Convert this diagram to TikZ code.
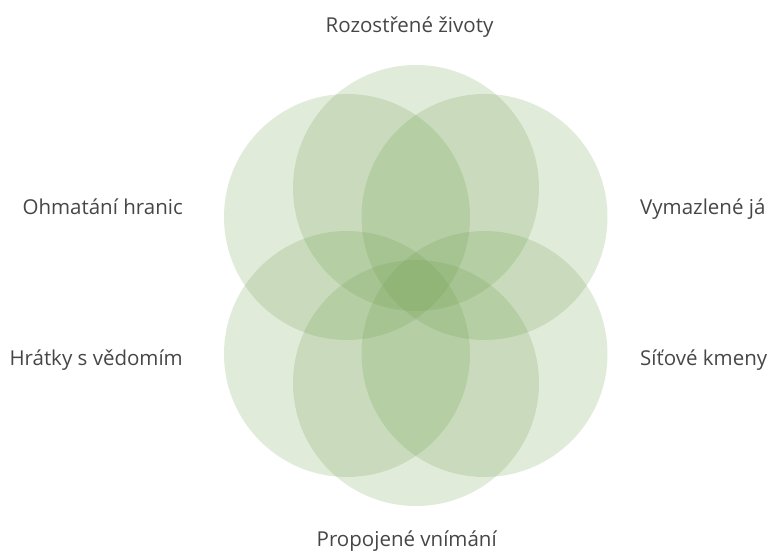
\documentclass[tikz,border=0pt]{standalone}
\usepackage{fontspec}
\setmainfont{Open Sans}
\definecolor{leafgreen}{RGB}{105,155,70}
\definecolor{labelgray}{RGB}{70,70,70}

\begin{document}
\begin{tikzpicture}[x=1pt,y=1pt]
	\tikzstyle{petal}=[circle, minimum size=246pt, inner sep=0pt, fill=leafgreen, fill opacity=.2]
	\tikzstyle{lbl}=[inner sep=0pt, text=labelgray, font=\fontsize{20.5}{24}\selectfont]
	\useasboundingbox (0,0) rectangle (769,559);
	\draw (416,371) node (p1) [petal] {};
	\draw (347,342) node (p2) [petal] {};
	\draw (484.5,342) node (p3) [petal] {};
	\draw (347,205) node (p4) [petal] {};
	\draw (484.5,205) node (p5) [petal] {};
	\draw (416,176) node (p6) [petal] {};
	\draw (409.5,526) node (t1) [lbl, anchor=base] {Rozostřené životy};
	\draw (183,344) node (t2) [lbl, anchor=base east] {Ohmatání hranic};
	\draw (640,344) node (t3) [lbl, anchor=base west] {Vymazlené já};
	\draw (183,193) node (t4) [lbl, anchor=base east] {Hrátky s vědomím};
	\draw (640,193) node (t5) [lbl, anchor=base west] {Síťové kmeny};
	\draw (406.7,12.3) node (t6) [lbl, anchor=base] {Propojené vnímání};
\end{tikzpicture}
\end{document}
